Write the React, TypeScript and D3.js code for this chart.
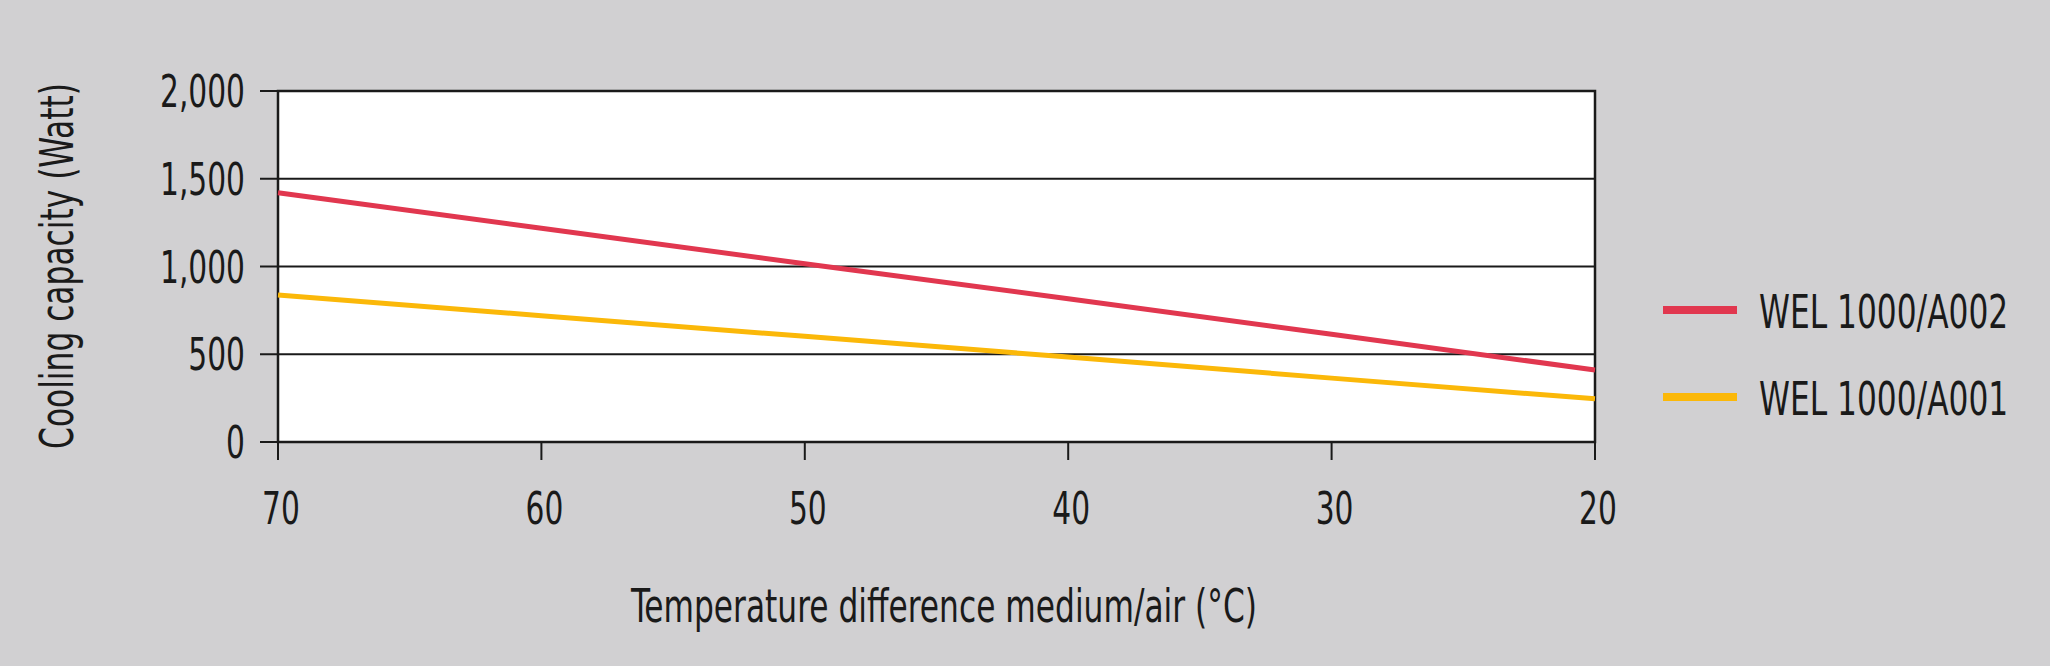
import { useRef, useEffect } from "react";
import * as d3 from "d3";

// temperature difference (°C), read at every axis step
const temps = [70, 60, 50, 40, 30, 20];
// cooling capacity in Watt
const a002 = [1420, 1218, 1016, 816, 614, 410];
const a001 = [838, 720, 602, 484, 364, 246];

const xTicks = [70, 60, 50, 40, 30, 20];
const yTicks = [0, 500, 1000, 1500, 2000];

const seriesNames = ["WEL 1000/A002", "WEL 1000/A001"];
const seriesColors = ["#e1374f", "#fbb809"];

const W = 2050, H = 666;
const FONT = "'DejaVu Sans Condensed', 'Liberation Sans Narrow', sans-serif";
// the original face is a narrow grotesk, so squeeze the glyphs sideways
const SQ_TICK = 0.75;
const SQ_TEXT = 0.74;

export default function App() {
  const svgRef = useRef<SVGSVGElement>(null);

  useEffect(() => {
    if (!svgRef.current) return;
    const svg = d3.select(svgRef.current);
    svg.selectAll("*").remove();

    const left = 278, right = 1595, top = 91, bottom = 442;
    const x = d3.scaleLinear().domain([70, 20]).range([left, right]);
    const y = d3.scaleLinear().domain([0, 2000]).range([bottom, top]);

    svg.append("rect").attr("width", W).attr("height", H).attr("fill", "#d1d0d2");

    // plot area
    svg.append("rect")
      .attr("x", left).attr("y", top)
      .attr("width", right - left).attr("height", bottom - top)
      .attr("fill", "#ffffff");

    // horizontal grid lines, running out left as ticks
    svg.append("g").selectAll("line")
      .data(yTicks)
      .join("line")
      .attr("x1", left - 18).attr("x2", right)
      .attr("y1", d => y(d)).attr("y2", d => y(d))
      .attr("stroke", "#1a1a1a")
      .attr("stroke-width", 2);

    // y tick labels
    svg.append("g").selectAll("text")
      .data(yTicks)
      .join("text")
      .attr("transform", d => `translate(245,${y(d) + 16}) scale(${SQ_TICK},1)`)
      .attr("text-anchor", "end")
      .attr("font-family", FONT)
      .attr("font-size", 44)
      .attr("fill", "#1a1a1a")
      .text(d => d3.format(",")(d));

    // x ticks below the axis
    svg.append("g").selectAll("line")
      .data(xTicks)
      .join("line")
      .attr("x1", d => x(d)).attr("x2", d => x(d))
      .attr("y1", bottom).attr("y2", bottom + 18)
      .attr("stroke", "#1a1a1a")
      .attr("stroke-width", 2);

    svg.append("g").selectAll("text")
      .data(xTicks)
      .join("text")
      .attr("transform", d => `translate(${x(d) + 3},524) scale(${SQ_TICK},1)`)
      .attr("text-anchor", "middle")
      .attr("font-family", FONT)
      .attr("font-size", 44)
      .attr("fill", "#1a1a1a")
      .text(d => d);

    // frame
    svg.append("rect")
      .attr("x", left).attr("y", top)
      .attr("width", right - left).attr("height", bottom - top)
      .attr("fill", "none")
      .attr("stroke", "#1a1a1a")
      .attr("stroke-width", 2.5);

    // series
    const line = d3.line<number>()
      .x((_, i) => x(temps[i]))
      .y(d => y(d));

    [a002, a001].forEach((vals, i) => {
      svg.append("path")
        .attr("d", line(vals))
        .attr("fill", "none")
        .attr("stroke", seriesColors[i])
        .attr("stroke-width", 5);
    });

    // axis titles
    svg.append("text")
      .attr("transform", `translate(73,266) rotate(-90) scale(${SQ_TEXT},1)`)
      .attr("text-anchor", "middle")
      .attr("font-family", FONT)
      .attr("font-size", 47)
      .attr("fill", "#1a1a1a")
      .text("Cooling capacity (Watt)");

    svg.append("text")
      .attr("transform", `translate(944,622) scale(${SQ_TEXT},1)`)
      .attr("text-anchor", "middle")
      .attr("font-family", FONT)
      .attr("font-size", 47)
      .attr("fill", "#1a1a1a")
      .text("Temperature difference medium/air (°C)");

    // legend
    const legend = svg.append("g");
    seriesNames.forEach((name, i) => {
      const ly = 310 + i * 87;
      legend.append("line")
        .attr("x1", 1663).attr("x2", 1737)
        .attr("y1", ly).attr("y2", ly)
        .attr("stroke", seriesColors[i])
        .attr("stroke-width", 8);
      legend.append("text")
        .attr("transform", `translate(1759,${ly + 18}) scale(${SQ_TEXT},1)`)
        .attr("font-family", FONT)
        .attr("font-size", 47)
        .attr("fill", "#1a1a1a")
        .text(name);
    });
  }, []);

  return (
    <>
      <style>{"body{margin:0}"}</style>
      <svg ref={svgRef} width={W} height={H} style={{ display: "block" }} />
    </>
  );
}
